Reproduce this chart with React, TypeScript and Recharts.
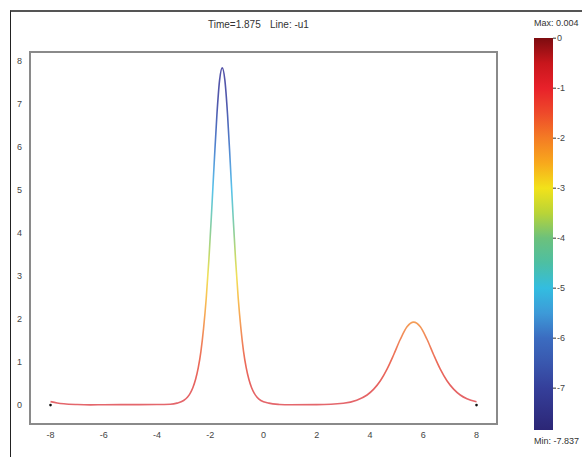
import {
  ComposedChart,
  Line,
  XAxis,
  YAxis,
  ReferenceArea,
  ReferenceDot,
  BarChart,
  Bar,
} from "recharts";

// solution profile -u1 at Time=1.875
const xs = [
  -8, -7.75, -7.5, -7, -6.5, -6, -5, -4, -3.5, -3.25, -3.0, -2.85, -2.75, -2.65, -2.55, -2.45,
  -2.35, -2.25, -2.15, -2.05, -1.95, -1.85, -1.75, -1.65, -1.55, -1.45, -1.35, -1.25, -1.15,
  -1.05, -0.95, -0.85, -0.75, -0.65, -0.55, -0.45, -0.35, -0.25, -0.1, 0.2, 0.6, 1.0, 2.0,
  3.0, 3.5, 3.89, 4.14, 4.39, 4.64, 4.89, 5.14, 5.39, 5.64, 5.89, 6.14, 6.39, 6.64, 6.89,
  7.14, 7.39, 7.64, 8.0,
];
const ys = [
  0.08, 0.05, 0.03, 0.012, 0.005, 0.008, 0.01, 0.012, 0.02, 0.045, 0.107, 0.19, 0.28, 0.41, 0.6,
  0.87, 1.25, 1.79, 2.49, 3.39, 4.48, 5.65, 6.75, 7.55, 7.84, 7.55, 6.75, 5.65, 4.48, 3.39,
  2.49, 1.79, 1.25, 0.87, 0.6, 0.41, 0.28, 0.19, 0.107, 0.045, 0.015, 0.006, 0.01, 0.043,
  0.113, 0.234, 0.37, 0.565, 0.835, 1.17, 1.53, 1.82, 1.93, 1.82, 1.53, 1.17, 0.835, 0.565,
  0.37, 0.234, 0.147, 0.075,
];
const xTicks = [-8, -6, -4, -2, 0, 2, 4, 6, 8];
const yTicks = [0, 1, 2, 3, 4, 5, 6, 7, 8];

// colour bar (value of u1)
const cbMax = 0.004;
const cbMin = -7.837;
const cbTicks = [0, -1, -2, -3, -4, -5, -6, -7];
const cbValues = [0, -0.5, -1, -1.5, -2, -2.5, -3, -3.5, -4, -4.5, -5, -5.5, -6, -6.5, -7, -7.837];
const cbColors = [
  "#7d0c0f", "#c8161c", "#e8212a", "#ee4a2a", "#f47c24", "#f8a91c", "#f2e21a", "#b9d437",
  "#6cc17c", "#4dbfa3", "#33bde0", "#3d9ad8", "#3b6cc0", "#3957ae", "#353f9a", "#2c2676",
];
// the thin line renders lighter than the bar
const lineColors = [
  "#e4666c", "#e6625f", "#ec6a58", "#f0845a", "#f5a257", "#f8c253", "#f1e05a", "#c4da6c",
  "#8fcf98", "#70cbc2", "#58c3ea", "#5aa6e0", "#5284cf", "#4f6cbd", "#5059ad", "#5453a8",
];

const data = xs.map((x, i) => ({ x, y: ys[i] }));
const cbData = [{ name: "cb", range: [cbMin, cbMax] }];

const yMax = Math.max(...ys);
const yMin = Math.min(...ys);
// line is coloured by u1 = -y, top of the path is the most negative value
const lineStops = cbValues
  .map((v, i) => ({ offset: Math.max(0, Math.min(1, (yMax + v) / (yMax - yMin))), color: lineColors[i] }))
  .reverse();

const font = "'Liberation Sans', Arial, sans-serif";
const tickStyle = { fontSize: 9, fill: "#444", fontFamily: font };
const small = { position: "absolute" as const, fontSize: 9, fontFamily: font, color: "#333", whiteSpace: "pre" as const };

export default function App() {
  return (
    <div style={{ position: "absolute", left: 0, top: 0, width: 582, height: 457, background: "#fff", overflow: "hidden" }}>
      <div
        style={{
          position: "absolute",
          left: 10,
          top: 10,
          right: -5,
          bottom: -5,
          borderTop: "2px solid #555",
          borderLeft: "1.5px solid #222",
        }}
      />
      <div style={{ ...small, left: 208, top: 19, fontSize: 10 }}>Time=1.875</div>
      <div style={{ ...small, left: 270, top: 19, fontSize: 10 }}>Line: -u1</div>
      <div style={{ ...small, left: 534, top: 18 }}>Max: 0.004</div>
      <div style={{ ...small, left: 534, top: 436 }}>Min: -7.837</div>

      <div style={{ position: "absolute", left: 0, top: 0 }}>
        <ComposedChart width={582} height={457} data={data} margin={{ top: 52, right: 85, bottom: 13, left: 0 }}>
          <defs>
            <linearGradient id="lineGrad" x1="0" y1="0" x2="0" y2="1">
              {lineStops.map((s, i) => (
                <stop key={i} offset={s.offset} stopColor={s.color} />
              ))}
            </linearGradient>
          </defs>
          <XAxis
            dataKey="x"
            type="number"
            domain={[-8.77, 8.77]}
            ticks={xTicks}
            axisLine={false}
            tickLine={false}
            tick={tickStyle}
            height={20}
            allowDataOverflow
          />
          <YAxis
            type="number"
            domain={[-0.44, 8.21]}
            ticks={yTicks}
            axisLine={false}
            tickLine={false}
            tick={tickStyle}
            width={30}
            allowDataOverflow
          />
          <ReferenceArea x1={-8.77} x2={8.77} y1={-0.44} y2={8.21} fill="none" stroke="#8a8a8a" strokeWidth={2} />
          <Line
            dataKey="y"
            type="monotone"
            stroke="url(#lineGrad)"
            strokeWidth={1.6}
            dot={false}
            isAnimationActive={false}
          />
          <ReferenceDot x={-8} y={0} r={1.3} fill="#111" stroke="none" />
          <ReferenceDot x={8} y={0} r={1.3} fill="#111" stroke="none" />
        </ComposedChart>
      </div>

      <div style={{ position: "absolute", left: 534, top: 28 }}>
        <BarChart width={48} height={412} data={cbData} margin={{ top: 10, right: 0, bottom: 10, left: 0 }} barCategoryGap={0}>
          <defs>
            <linearGradient id="cbGrad" x1="0" y1="0" x2="0" y2="1">
              {cbValues.map((v, i) => (
                <stop key={i} offset={(cbMax - v) / (cbMax - cbMin)} stopColor={cbColors[i]} />
              ))}
            </linearGradient>
          </defs>
          <XAxis dataKey="name" hide />
          <YAxis
            orientation="right"
            type="number"
            domain={[cbMin, cbMax]}
            ticks={cbTicks}
            axisLine={false}
            tickSize={3}
            tickMargin={1}
            tickLine={{ stroke: "#333" }}
            tick={tickStyle}
            width={29}
            allowDataOverflow
          />
          <Bar dataKey="range" fill="url(#cbGrad)" isAnimationActive={false} />
        </BarChart>
      </div>
    </div>
  );
}
